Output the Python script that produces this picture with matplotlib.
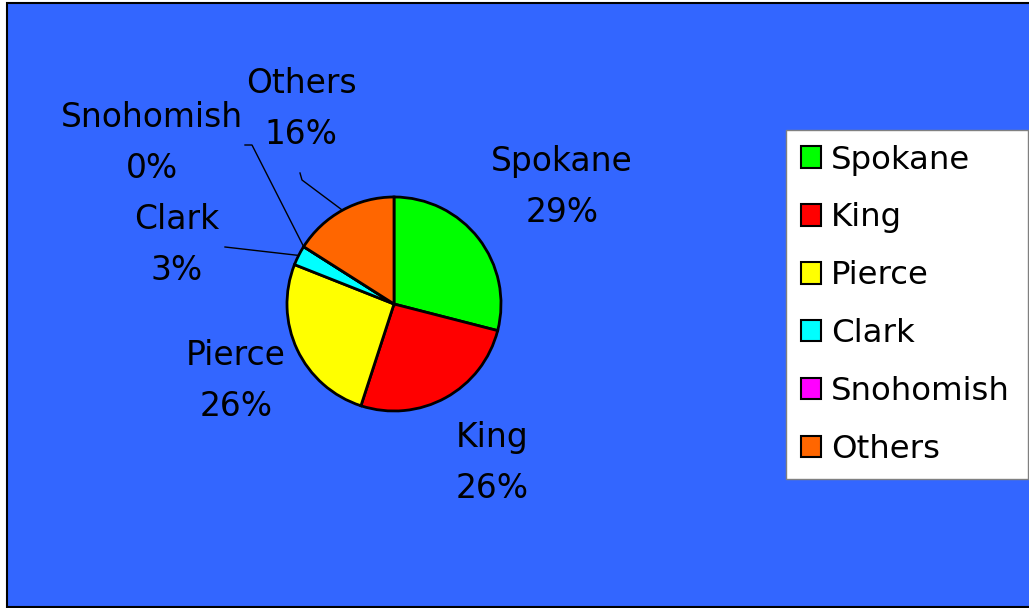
import numpy as np
import matplotlib
matplotlib.use("Agg")
import matplotlib.pyplot as plt
from matplotlib.patches import Rectangle, Patch

# 各县占比
counties = ["Spokane", "King", "Pierce", "Clark", "Snohomish", "Others"]
shares = [29, 26, 26, 3, 0, 16]
colors = ["#00FF00", "#FF0000", "#FFFF00", "#00FFFF", "#FF00FF", "#FF6600"]

# 标签位置（像素坐标，y向下）
label_pos = [(562, 187), (492, 463), (236, 381), (177, 245), (152, 143), (301, 109)]
# 引线起点（没有引线的为 None）
leader_start = [None, None, None, [(225, 247)], [(245, 145), (252, 145)], [(300, 173), (302, 180)]]

W, H = 1029, 608
cx, cy, r = 394, 304, 107

plt.rcParams['font.family'] = ['DejaVu Sans']
fig = plt.figure(figsize=(W / 100, H / 100), dpi=100)
fig.patch.set_facecolor("white")

ax = fig.add_axes([0, 0, 1, 1])
ax.axis("off")

# 蓝色背景区域
ax.add_patch(Rectangle((7, 1), W, H - 4, facecolor="#3366FF", edgecolor="black",
                       lw=1.5, zorder=0))

wedges, _ = ax.pie(shares, colors=colors, startangle=90, counterclock=False,
                   center=(cx, cy), radius=r, frame=True,
                   wedgeprops=dict(edgecolor="black", linewidth=2.0, zorder=2))
ax.set_xlim(0, W)
ax.set_ylim(0, H)
ax.set_aspect("equal")
ax.axis("off")

total = sum(shares)
for w, name, v, (lx, ly), lead in zip(wedges, counties, shares, label_pos, leader_start):
    ax.text(lx, H - ly, f"{name}\n{v / total * 100:.0f}%", ha="center", va="center",
            fontsize=23.7, linespacing=1.72, color="black", zorder=3)
    if lead is not None:
        mid = np.deg2rad((w.theta1 + w.theta2) / 2)
        pts = [(x, H - y) for x, y in lead] + [(cx + r * np.cos(mid), cy + r * np.sin(mid))]
        xs, ys = zip(*pts)
        ax.plot(xs, ys, color="black", lw=1.0, zorder=3)

# 图例框：左上角 (786, 130)，宽 242 像素
handles = [Patch(facecolor=c, edgecolor="black", lw=1.5) for c in colors]
leg = fig.legend(handles, counties, loc="upper left",
                 bbox_to_anchor=(786 / W, 1 - 478 / H, 242 / W, 348 / H), mode="expand",
                 fontsize=23.3, frameon=True, fancybox=False, framealpha=1, borderaxespad=0,
                 handlelength=0.64, handleheight=0.64, handletextpad=0.3,
                 labelspacing=0.83, borderpad=0.45)
leg.get_frame().set_edgecolor("#808080")
leg.get_frame().set_linewidth(1.0)
leg.get_frame().set_facecolor("white")

fig.savefig("out.png", dpi=100)
